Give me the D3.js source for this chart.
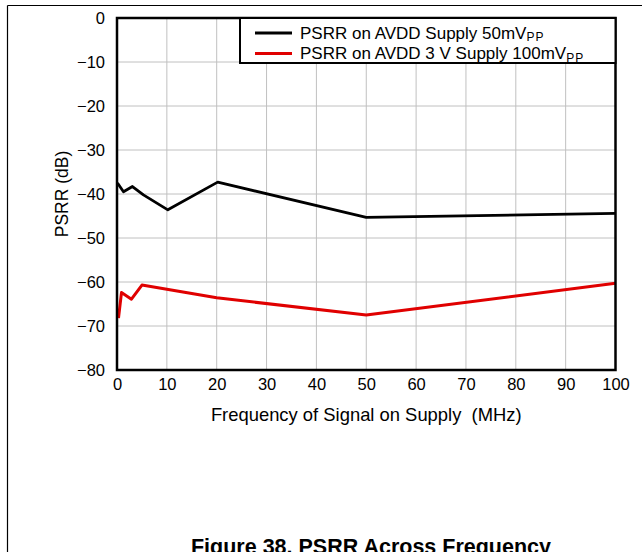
<!DOCTYPE html>
<html><head><meta charset="utf-8">
<script src="https://cdn.jsdelivr.net/npm/d3@7"></script>
<style>body{margin:0;background:#fff}svg{display:block;font-family:"Liberation Sans",Arial,sans-serif}</style>
</head><body>
<svg id="c" width="642" height="552"></svg>
<script>
const xTicks = [0,10,20,30,40,50,60,70,80,90,100];
const yTicks = [0,-10,-20,-30,-40,-50,-60,-70,-80];
const blackFreq = [0.1, 1.3, 3.1, 5.3, 10.2, 20.2, 50, 100];
const blackVals = [-37.5, -39.5, -38.3, -40.2, -43.6, -37.3, -45.3, -44.4];
const redFreq = [0.3, 0.9, 2.9, 5.0, 20, 50, 100];
const redVals = [-68.2, -62.4, -63.9, -60.7, -63.6, -67.5, -60.3];
const seriesNames = ["PSRR on AVDD Supply 50mV", "PSRR on AVDD 3 V Supply 100mV"];
const seriesColors = ["#000000", "#e00000"];

const svg = d3.select("#c");
const L=117, R=615.5, T=18, B=370;
const x = d3.scaleLinear().domain([0,100]).range([L,R]);
const y = d3.scaleLinear().domain([-80,0]).range([B,T]);

// outer frame
svg.append("line").attr("x1",7.5).attr("x2",642).attr("y1",5.5).attr("y2",5.5).attr("stroke","#000").attr("stroke-width",1.2);
svg.append("line").attr("x1",7.5).attr("x2",7.5).attr("y1",5.5).attr("y2",552).attr("stroke","#000").attr("stroke-width",1.2);

// grid
svg.append("g").selectAll("line").data(xTicks.slice(1,-1)).join("line")
  .attr("x1",d=>x(d)).attr("x2",d=>x(d)).attr("y1",T).attr("y2",B).attr("stroke","#c0c0c0").attr("stroke-width",1);
svg.append("g").selectAll("line").data(yTicks.slice(1,-1)).join("line")
  .attr("y1",d=>y(d)).attr("y2",d=>y(d)).attr("x1",L).attr("x2",R).attr("stroke","#c0c0c0").attr("stroke-width",1);

// axes labels via d3 axes (no lines)
const xa = svg.append("g").attr("transform",`translate(0,${B})`).call(d3.axisBottom(x).tickValues(xTicks).tickSize(0).tickPadding(8));
xa.select(".domain").remove();
xa.selectAll("text").attr("font-size",16.5).attr("font-family","Liberation Sans, Arial").attr("fill","#000");
const ya = svg.append("g").attr("transform",`translate(${L},0)`).call(d3.axisLeft(y).tickValues(yTicks).tickSize(0).tickPadding(12).tickFormat(d=>d===0?"0":"\u2212"+Math.abs(d)));
ya.select(".domain").remove();
ya.selectAll("text").attr("font-size",16.5).attr("font-family","Liberation Sans, Arial").attr("fill","#000");

// lines
const line = d3.line().x(d=>x(d[0])).y(d=>y(d[1]));
svg.append("path").datum(redFreq.map((f,i)=>[f,redVals[i]])).attr("d",line)
  .attr("fill","none").attr("stroke",seriesColors[1]).attr("stroke-width",3).attr("stroke-linejoin","round");
svg.append("path").datum(blackFreq.map((f,i)=>[f,blackVals[i]])).attr("d",line)
  .attr("fill","none").attr("stroke",seriesColors[0]).attr("stroke-width",2.8).attr("stroke-linejoin","round");

// plot border
svg.append("rect").attr("x",L).attr("y",T).attr("width",R-L).attr("height",B-T).attr("fill","none").attr("stroke","#000").attr("stroke-width",2.5);

// legend
const lg = svg.append("g");
lg.append("rect").attr("x",240).attr("y",T).attr("width",R-240).attr("height",45).attr("fill","#fff").attr("stroke","#000").attr("stroke-width",2);
seriesNames.forEach((n,i)=>{
  const yy = 33 + i*20.5;
  lg.append("line").attr("x1",255).attr("x2",292).attr("y1",yy).attr("y2",yy).attr("stroke",seriesColors[i]).attr("stroke-width",3);
  const t = lg.append("text").attr("x",300).attr("y",yy+5.5).attr("font-size",17).attr("fill","#000");
  t.append("tspan").text(n);
  t.append("tspan").attr("font-size",12).attr("dy",2.5).attr("letter-spacing",1).text("PP");
});

// axis titles
svg.append("text").attr("x",(L+R)/2).attr("y",421).attr("text-anchor","middle").attr("font-size",18.4).style("white-space","pre").text("Frequency of Signal on Supply  (MHz)");
svg.append("text").attr("transform",`translate(68,${(T+B)/2}) rotate(-90)`).attr("text-anchor","middle").attr("font-size",17.5).text("PSRR (dB)");

// caption
svg.append("text").attr("x",371).attr("y",554).attr("text-anchor","middle").attr("font-size",21.5).attr("font-weight","bold").text("Figure 38. PSRR Across Frequency");
</script>
</body></html>
